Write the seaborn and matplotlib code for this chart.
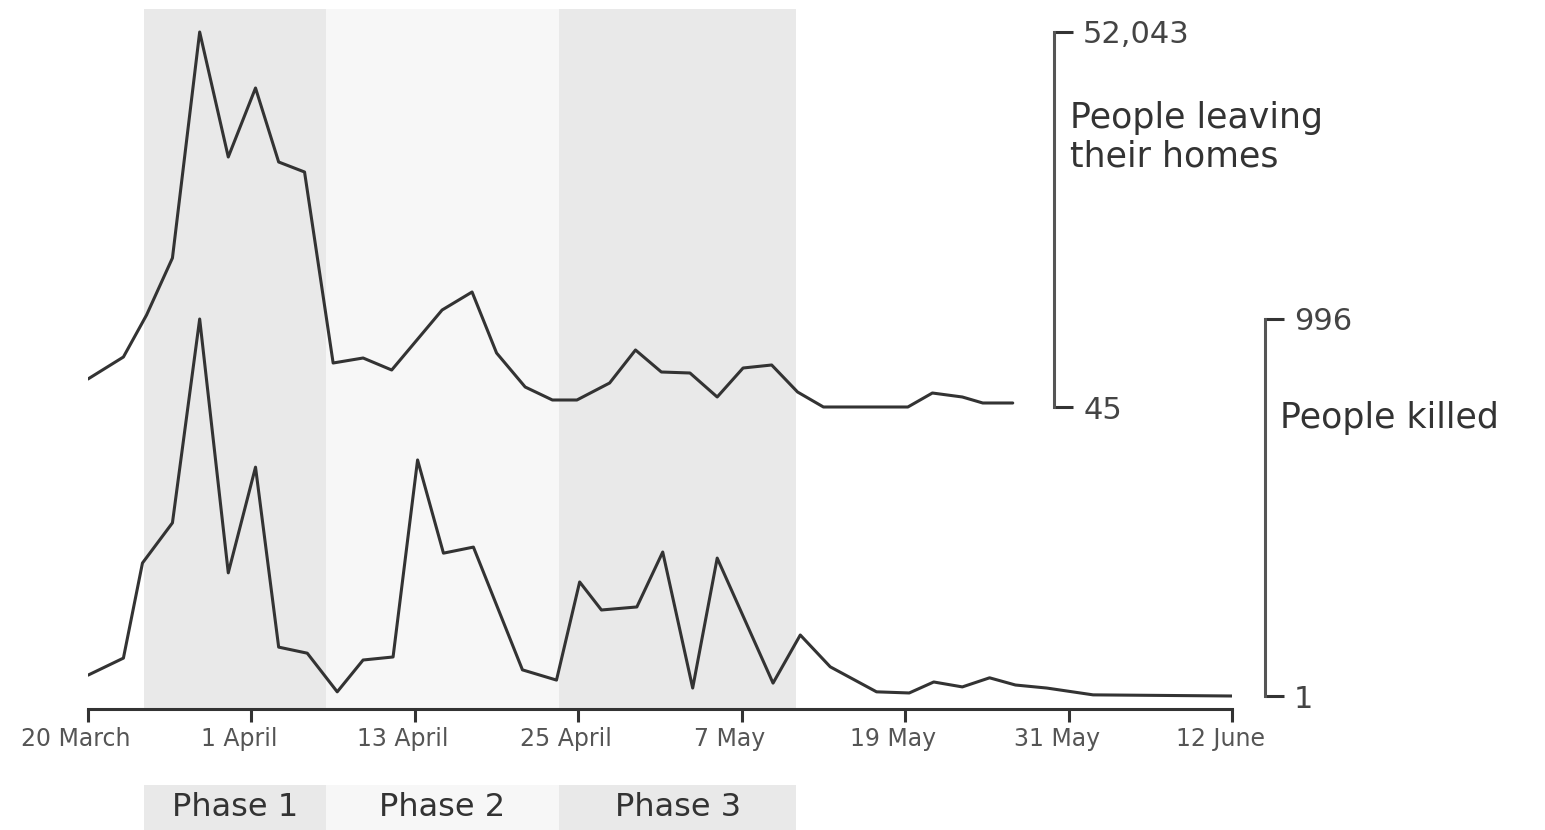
import matplotlib
matplotlib.use('Agg')
import matplotlib.pyplot as plt
import matplotlib.transforms as mtransforms
import seaborn as sns
import pandas as pd

# days after 20 March
days_killed = [0, 2.6, 4.0, 6.2, 8.2, 10.3, 12.3, 14.0, 16.1, 18.3, 20.2, 22.4, 24.2, 26.1, 28.3,
               31.9, 34.4, 36.1, 37.7, 40.3, 42.2, 44.4, 46.2, 50.3, 52.3, 54.5, 57.9, 60.3, 62.1,
               64.2, 66.2, 68.1, 70.4, 73.8, 84.0]
killed = [56, 101, 352, 458, 996, 326, 605, 130, 114, 12, 96, 104, 624, 378, 394,
          70, 43, 302, 228, 236, 381, 22, 365, 35, 162, 78, 12, 9, 38,
          25, 49, 30, 22, 4, 1]

days_leaving = [0, 2.6, 4.3, 6.2, 8.2, 10.3, 12.3, 14.0, 15.9, 18.0, 20.2, 22.3, 26.0, 28.2, 30.0,
                32.1, 34.1, 35.9, 38.3, 40.2, 42.1, 44.2, 46.2, 48.1, 50.2, 52.1, 54.0, 60.2, 62.0,
                64.2, 65.7, 67.9]
leaving = [3928, 6978, 12802, 20705, 52043, 34710, 44278, 34017, 32630, 6146, 6839, 5175, 13495, 15991, 7533,
           2818, 1016, 1016, 3373, 7949, 4898, 4760, 1432, 5453, 5869, 2125, 45, 45, 1986,
           1432, 600, 600]

tick_days = [0, 12, 24, 36, 48, 60, 72, 84]
tick_labels = ['20 March', '1 April', '13 April', '25 April', '7 May', '19 May', '31 May', '12 June']

phase_names = ['Phase 1', 'Phase 2', 'Phase 3']
phase_start = [4.1, 17.45, 34.6]
phase_end = [17.45, 34.6, 52.0]
phase_colors = ['#e9e9e9', '#f7f7f7', '#e9e9e9']

df_k = pd.DataFrame({'day': days_killed, 'value': killed})
df_l = pd.DataFrame({'day': days_leaving, 'value': leaving})

sns.set_style('white')
plt.rcParams['font.family'] = ['DejaVu Sans']

LINE = '#333333'
W, H = 1545, 830


def fit_limits(v0, f0, v1, f1):
    # y limits so that v0 sits at axes fraction f0 and v1 at f1
    scale = (v1 - v0) / (f1 - f0)
    lo = v0 - f0 * scale
    return lo, lo + scale


fig = plt.figure(figsize=(W / 100, H / 100), dpi=100)
left, right = 88 / W, 1232 / W
bottom, top = (H - 709) / H, (H - 9) / H
ax_k = fig.add_axes([left, bottom, right - left, top - bottom])
ax_l = ax_k.twinx()

# phase shading
for s, e, c in zip(phase_start, phase_end, phase_colors):
    ax_k.axvspan(s, e, color=c, lw=0, zorder=0)

sns.lineplot(data=df_k, x='day', y='value', ax=ax_k, color=LINE, linewidth=2.2, zorder=3)
sns.lineplot(data=df_l, x='day', y='value', ax=ax_l, color=LINE, linewidth=2.2, zorder=3)

ax_k.set_xlim(0, 84)
ax_k.set_ylim(*fit_limits(min(killed), 13 / 700, max(killed), 390 / 700))
ax_l.set_ylim(*fit_limits(min(leaving), 302 / 700, max(leaving), 677 / 700))

for ax in (ax_k, ax_l):
    ax.set_xlabel('')
    ax.set_ylabel('')
    ax.spines['left'].set_visible(False)
    ax.spines['top'].set_visible(False)
ax_l.spines['bottom'].set_visible(False)

# x axis
ax_k.spines['bottom'].set_bounds(0, 84)
ax_k.spines['bottom'].set_linewidth(2.2)
ax_k.spines['bottom'].set_color(LINE)
ax_k.set_xticks(tick_days)
ax_k.set_xticklabels(tick_labels)
ax_k.tick_params(axis='x', bottom=True, direction='out', length=9.5, width=2.2, color=LINE,
                 pad=3.5, labelsize=17, labelcolor='#555555')
shift = mtransforms.ScaledTranslation(-0.12, 0, fig.dpi_scale_trans)
for lab in ax_k.get_xticklabels():
    lab.set_transform(lab.get_transform() + shift)

# bracket scales on the right
brackets = [(ax_k, killed, (1265 - 88) / 1144), (ax_l, leaving, (1054 - 88) / 1144)]
for ax, vals, pos in brackets:
    ax.yaxis.tick_right()
    sp = ax.spines['right']
    sp.set_visible(True)
    sp.set_position(('axes', pos))
    sp.set_bounds(min(vals), max(vals))
    sp.set_linewidth(2.2)
    sp.set_color('#555555')
    ax.set_yticks([min(vals), max(vals)])
    ax.set_yticklabels([f'{min(vals):,}', f'{max(vals):,}'])
    ax.tick_params(axis='y', right=True, direction='out', length=14, width=2.2, color=LINE,
                   pad=7, labelsize=22, labelcolor='#444444')

fig.text(1070 / W, 1 - 137 / H, 'People leaving\ntheir homes', fontsize=25,
         ha='left', va='center', linespacing=1.15, color='#333333')
fig.text(1280 / W, 1 - 418 / H, 'People killed', fontsize=25,
         ha='left', va='center', color='#333333')

# phase key below the axis
ax_p = fig.add_axes([left, 0, right - left, 45 / H])
ax_p.set_xlim(0, 84)
ax_p.axis('off')
for name, s, e, c in zip(phase_names, phase_start, phase_end, phase_colors):
    ax_p.axvspan(s, e, color=c, lw=0)
    ax_p.text((s + e) / 2, 0.5, name, transform=ax_p.get_xaxis_transform(),
              ha='center', va='center', fontsize=23, color='#333333')

fig.savefig('out.png', dpi=100)
